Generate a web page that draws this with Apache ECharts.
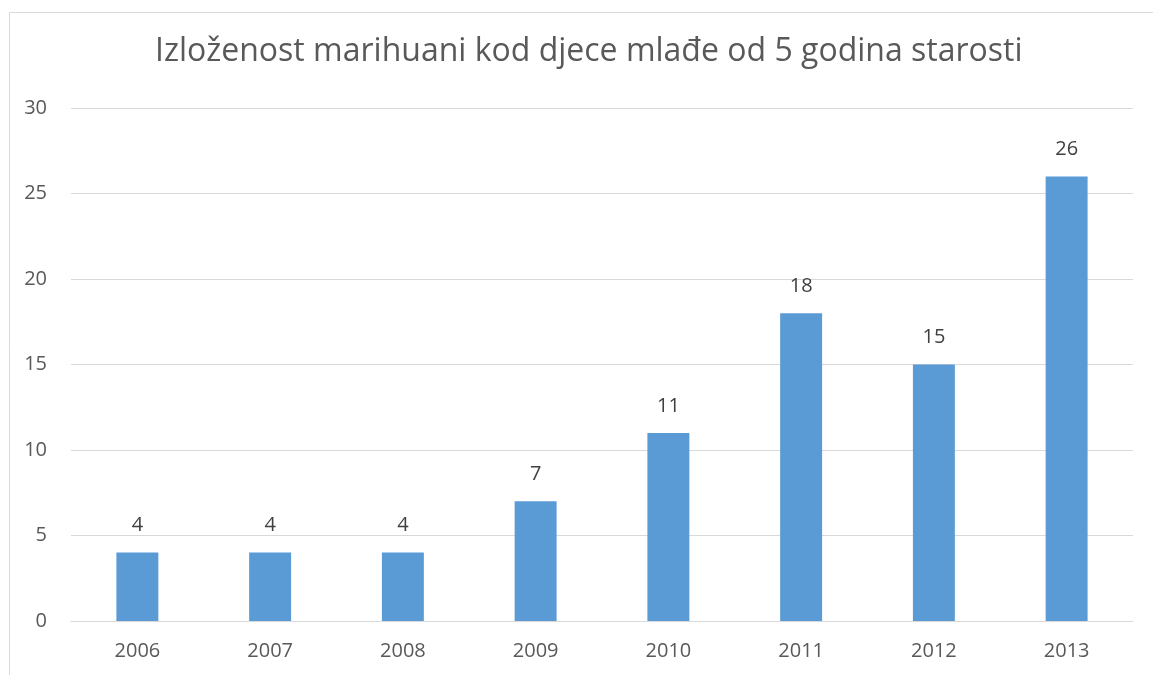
<!DOCTYPE html>
<html lang="hr">
    <head>
        <meta charset="UTF-8">
        <title>Izloženost marihuani</title>
        <script src="https://cdn.jsdelivr.net/npm/echarts@6/dist/echarts.min.js"></script>
        <style>
            html, body { margin: 0; padding: 0; background: #ffffff; }
            #chart { width: 1153px; height: 675px; }
        </style>
    </head>
    <body>
        <div id="chart"></div>
        <script>
            // podaci
            var years = ['2006', '2007', '2008', '2009', '2010', '2011', '2012', '2013'];
            var cases = [4, 4, 4, 7, 11, 18, 15, 26];
            var yTicks = [0, 5, 10, 15, 20, 25, 30];

            var textColor = '#595959';
            var fontFam = '"Open Sans", "Noto Sans", sans-serif';

            var myChart = echarts.init(document.getElementById('chart'));
            var option = {
                animation: false,
                graphic: [{
                    type: 'rect',
                    left: 7,
                    top: 10,
                    shape: { width: 1300, height: 800 },
                    style: { fill: 'none', stroke: '#d9d9d9', lineWidth: 1 },
                    silent: true
                }],
                title: {
                    text: 'Izloženost marihuani kod djece mlađe od 5 godina starosti',
                    left: 150,
                    top: 31,
                    textStyle: {
                        color: textColor,
                        fontSize: 32,
                        fontWeight: 'normal',
                        fontFamily: fontFam
                    }
                },
                grid: {
                    left: 71,
                    right: 20,
                    top: 108,
                    bottom: 54
                },
                xAxis: {
                    type: 'category',
                    data: years,
                    axisLine: { lineStyle: { color: '#d9d9d9', width: 1 } },
                    axisTick: { show: false },
                    axisLabel: {
                        color: textColor,
                        fontSize: 20,
                        fontFamily: fontFam,
                        margin: 20
                    }
                },
                yAxis: {
                    type: 'value',
                    min: yTicks[0],
                    max: yTicks[yTicks.length - 1],
                    interval: 5,
                    axisLine: { show: false },
                    axisTick: { show: false },
                    splitLine: { lineStyle: { color: '#d9d9d9', width: 1 } },
                    axisLabel: {
                        color: textColor,
                        fontSize: 20,
                        fontFamily: fontFam,
                        margin: 24
                    }
                },
                series: [{
                    type: 'bar',
                    data: cases,
                    barWidth: '31.6%',
                    itemStyle: { color: '#5b9bd5' },
                    label: {
                        show: true,
                        position: 'top',
                        distance: 17,
                        color: '#404040',
                        fontSize: 20,
                        fontFamily: fontFam
                    }
                }]
            };
            myChart.setOption(option);
        </script>
    </body>
</html>
